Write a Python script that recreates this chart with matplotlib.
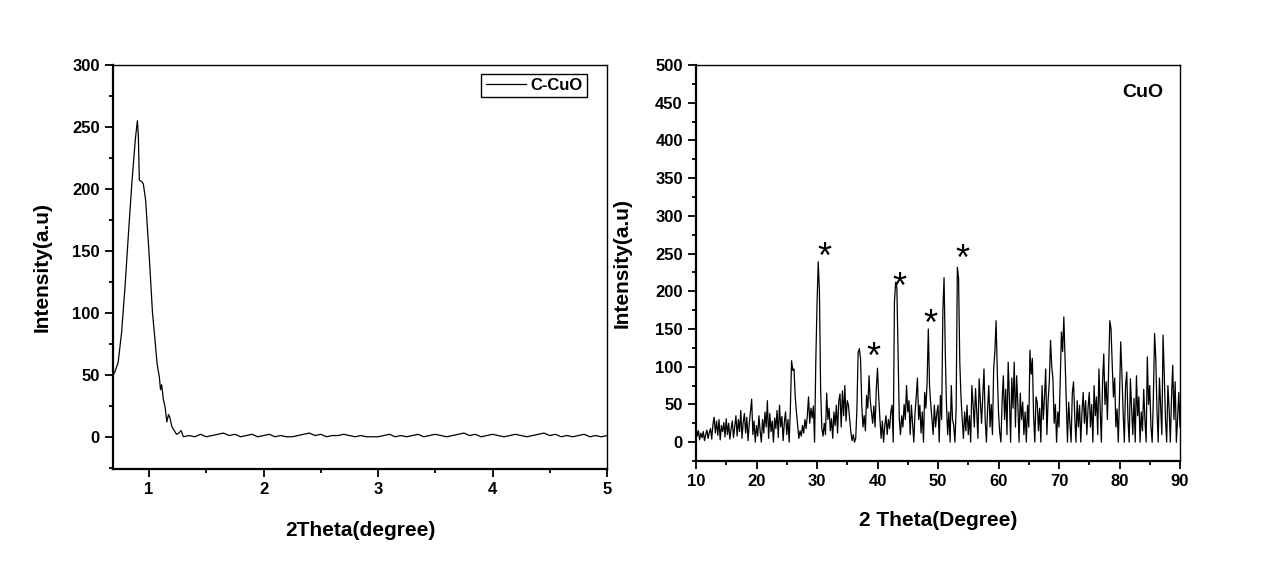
import matplotlib
matplotlib.use('Agg')
import matplotlib.pyplot as plt
from matplotlib.ticker import MultipleLocator
import numpy as np

# left panel: low angle scan of C-CuO
peak_x = [0.685, 0.70, 0.73, 0.76, 0.79, 0.82, 0.85, 0.88, 0.898, 0.906,
          0.915, 0.936, 0.95, 0.97, 1.00, 1.03, 1.05, 1.07, 1.09, 1.10,
          1.11, 1.125, 1.14, 1.155, 1.17, 1.18, 1.20, 1.22, 1.24, 1.26, 1.28]
peak_y = [50, 52, 60, 84, 121, 164, 205, 240, 255, 244,
          207, 206, 204, 191, 148, 100, 80, 59, 48, 38,
          42, 30, 24, 12, 18, 16, 8, 5, 2, 3, 5]
tail_y = [0, 1, 0, 2, 0, 1, 2, 3, 1, 2, 0, 1, 2, 0, 1, 2, 0, 1, 0, 0,
          1, 2, 3, 1, 2, 0, 1, 1, 2, 1, 0, 1, 0, 0, 0, 1, 2, 0, 1, 0,
          1, 2, 0, 1, 2, 1, 0, 1, 2, 3, 1, 2, 0, 1, 2, 1, 0, 1, 2, 1,
          0, 1, 2, 3, 1, 2, 0, 1, 0, 1, 2, 0, 1, 0, 1]
tail_x = list(np.linspace(1.30, 5.00, len(tail_y)))
small_x = peak_x + tail_x
small_y = peak_y + tail_y

# right panel: wide angle scan of CuO, 10-90 deg, 0.2 deg step
cuo_counts = [
    22, 8, 15, 3, 12, 6, 14, 2, 10, 16, 5, 13, 18, 4, 24, 33, 12, 28, 9, 30, 3, 22, 14, 26, 7,
    31, 10, 25, 4, 18, 28, 6, 20, 35, 8, 30, 14, 42, 5, 26, 38, 12, 33, 2, 24, 40, 57, 10, 28, 0,
    22, 8, 35, 15, 0, 30, 12, 40, 20, 55, 5, 38, 14, 28, 0, 32, 18, 42, 6, 49, 20, 34, 2, 26, 40,
    10, 30, 0, 45, 108, 95, 97, 60, 40, 22, 5, 15, 8, 22, 12, 30, 18, 35, 60, 25, 45, 32, 48, 0, 106,
    181, 239, 200, 71, 18, 8, 25, 10, 65, 30, 45, 15, 31, 5, 40, 22, 49, 12, 55, 64, 20, 68, 35, 75, 28,
    55, 49, 30, 13, 2, 10, 0, 5, 45, 119, 124, 110, 49, 20, 35, 15, 62, 45, 88, 55, 40, 25, 48, 20, 70,
    98, 60, 31, 5, 28, 0, 22, 35, 10, 30, 18, 40, 49, 0, 186, 212, 205, 119, 31, 10, 35, 20, 50, 30, 75,
    40, 55, 10, 49, 25, 0, 38, 60, 85, 30, 49, 12, 40, 0, 66, 45, 80, 150, 75, 50, 31, 10, 49, 20, 38,
    49, 0, 62, 30, 173, 218, 120, 49, 10, 40, 0, 75, 30, 22, 0, 45, 232, 217, 106, 60, 31, 5, 40, 15, 49,
    10, 35, 0, 75, 50, 20, 71, 40, 5, 84, 55, 25, 60, 97, 30, 0, 45, 75, 20, 50, 10, 97, 120, 161, 93,
    40, 13, 0, 55, 88, 30, 70, 10, 106, 60, 0, 85, 45, 106, 20, 88, 50, 0, 65, 30, 53, 10, 40, 0, 49,
    20, 122, 90, 111, 35, 0, 60, 53, 15, 45, 0, 75, 30, 60, 97, 10, 55, 80, 135, 100, 84, 25, 50, 0, 40,
    20, 80, 146, 120, 166, 111, 60, 0, 53, 25, 0, 65, 80, 35, 0, 55, 20, 49, 0, 40, 66, 25, 55, 10, 45,
    66, 20, 50, 0, 75, 35, 60, 10, 97, 45, 0, 80, 117, 50, 80, 30, 95, 161, 150, 102, 60, 85, 20, 44, 0,
    60, 133, 90, 40, 0, 75, 93, 30, 0, 84, 45, 10, 58, 0, 88, 35, 60, 0, 40, 15, 70, 30, 0, 113, 50,
    75, 20, 0, 60, 144, 111, 40, 0, 85, 49, 10, 142, 90, 30, 0, 75, 45, 0, 60, 102, 30, 80, 0, 31, 66,
    20]
cuo_theta = np.linspace(10, 90, len(cuo_counts))

# reflections marked with *
star_x = [31.2, 39.4, 43.55, 48.7, 54.0]
star_y = [251, 118, 211, 163, 248]

plt.rcParams['font.family'] = ['Liberation Sans', 'DejaVu Sans']
plt.rcParams['font.weight'] = 'bold'
plt.rcParams['axes.labelweight'] = 'bold'

fig = plt.figure(figsize=(12.8, 5.64), dpi=100)
ax1 = fig.add_axes([113/1280, 1 - 469/564, 494/1280, 404/564])
ax2 = fig.add_axes([696/1280, 1 - 461/564, 484/1280, 396/564])


def style(ax):
    for side in ['left', 'bottom']:
        ax.spines[side].set_linewidth(1.6)
    for side in ['top', 'right']:
        ax.spines[side].set_linewidth(1.0)
    ax.tick_params(which='both', direction='out', top=False, right=False,
                   labelsize=12, width=1.3, pad=4)
    ax.tick_params(which='major', length=5.5)
    ax.tick_params(which='minor', length=3)


ax1.plot(small_x, small_y, color='black', lw=0.9, label='C-CuO')
ax1.set_xlim(0.685, 5)
ax1.set_ylim(-26, 300)
ax1.xaxis.set_major_locator(MultipleLocator(1))
ax1.xaxis.set_minor_locator(MultipleLocator(0.5))
ax1.yaxis.set_major_locator(MultipleLocator(50))
ax1.yaxis.set_minor_locator(MultipleLocator(25))
style(ax1)
ax1.set_xlabel('2Theta(degree)', fontsize=15, labelpad=17)
ax1.set_ylabel('Intensity(a.u)', fontsize=15, labelpad=15)
leg = ax1.legend(loc='upper right', bbox_to_anchor=(0.9595, 0.978),
                 borderaxespad=0, fancybox=False, edgecolor='black',
                 framealpha=1, fontsize=12, handlelength=2.4,
                 handletextpad=0.3, borderpad=0.25)
leg.get_frame().set_linewidth(1.0)

ax2.plot(cuo_theta, cuo_counts, color='black', lw=0.9)
ax2.set_xlim(10, 90)
ax2.set_ylim(-25, 500)
ax2.xaxis.set_major_locator(MultipleLocator(10))
ax2.xaxis.set_minor_locator(MultipleLocator(5))
ax2.yaxis.set_major_locator(MultipleLocator(50))
ax2.yaxis.set_minor_locator(MultipleLocator(25))
style(ax2)
ax2.set_xlabel('2 Theta(Degree)', fontsize=15, labelpad=16)
ax2.set_ylabel('Intensity(a.u)', fontsize=15, labelpad=17)
ax2.text(83.9, 463, 'CuO', fontsize=14, fontweight='bold',
         ha='center', va='center')
for sx, sy in zip(star_x, star_y):
    # baseline sits below the glyph, so pull it down to centre the star
    ax2.annotate('*', (sx, sy), xytext=(0, -11), textcoords='offset points',
                 fontsize=26, fontweight='normal', ha='center', va='baseline')

fig.savefig('out.png', dpi=100)
